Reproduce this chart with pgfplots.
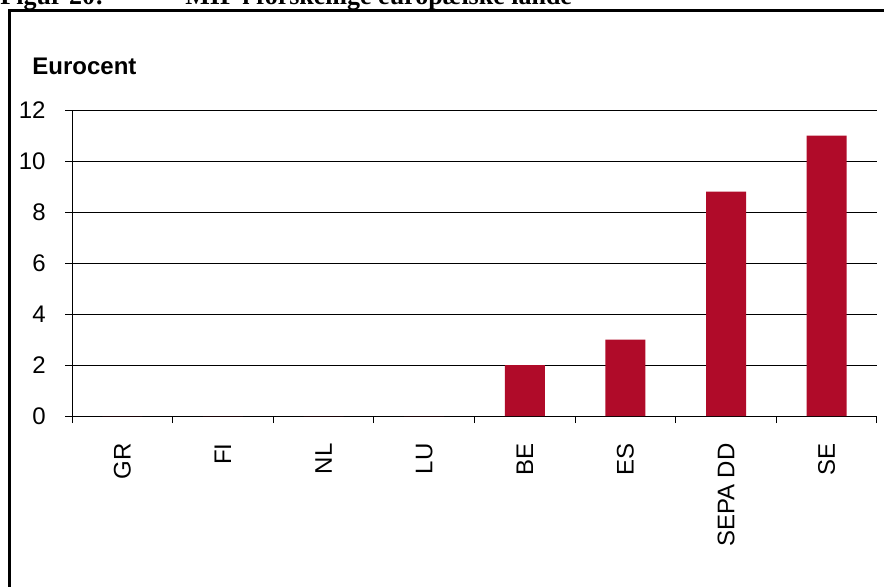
\documentclass[border=0pt]{standalone}
\usepackage{pgfplots}
\pgfplotsset{compat=1.18}
\usepackage{fontspec}
\setmainfont{Liberation Sans}
\newfontfamily\titlefont{Liberation Serif}
\definecolor{barred}{RGB}{176,11,41}
\begin{document}
\begin{tikzpicture}[x=1pt,y=1pt]
\clip (0,0) rectangle (442,293);
\draw[line width=1.5pt] (4.75,-20) rectangle (470,287.75);
\node[anchor=base west, inner sep=0pt, font=\titlefont\bfseries\fontsize{13}{15}\selectfont] at (0,291) {Figur 20:};
\node[anchor=base west, inner sep=0pt, font=\titlefont\bfseries\fontsize{13}{15}\selectfont] at (92.5,291) {MIF i forskellige europæiske lande};
\node[anchor=base west, inner sep=0pt, font=\bfseries\fontsize{12}{14}\selectfont] at (16,256) {Eurocent};
\begin{axis}[
  at={(36pt,85pt)}, anchor=south west,
  scale only axis, width=402.5pt, height=153pt,
  xmin=-0.5, xmax=7.5, ymin=0, ymax=12,
  axis x line*=bottom, axis y line*=left,
  axis line style={line width=0.5pt, black},
  ytick={0,2,...,12},
  xtick={0,...,7},
  xticklabels={GR,FI,NL,LU,BE,ES,SEPA DD,SE},
  minor xtick={-0.5,0.5,...,7.5},
  every major x tick/.append style={draw=none},
  tick align=outside,
  major tick length=3.5pt, minor tick length=3.5pt,
  tick style={black, line width=0.5pt},
  minor tick style={black, line width=0.5pt},
  ymajorgrids,
  grid style={black, line width=0.5pt},
  /pgf/number format/assume math mode=true,
  ticklabel style={font=\fontsize{12}{14}\selectfont},
  yticklabel style={inner sep=0pt, xshift=-9.5pt},
  xticklabel style={rotate=90, anchor=east, inner sep=0pt, yshift=0pt},
  xticklabel shift=10pt,
]
\addplot[ybar, bar width=20pt, fill=barred, draw=none] coordinates {
  (0,0) (1,0) (2,0) (3,0) (4,2) (5,3) (6,8.8) (7,11)
};
\end{axis}
\end{tikzpicture}
\end{document}
